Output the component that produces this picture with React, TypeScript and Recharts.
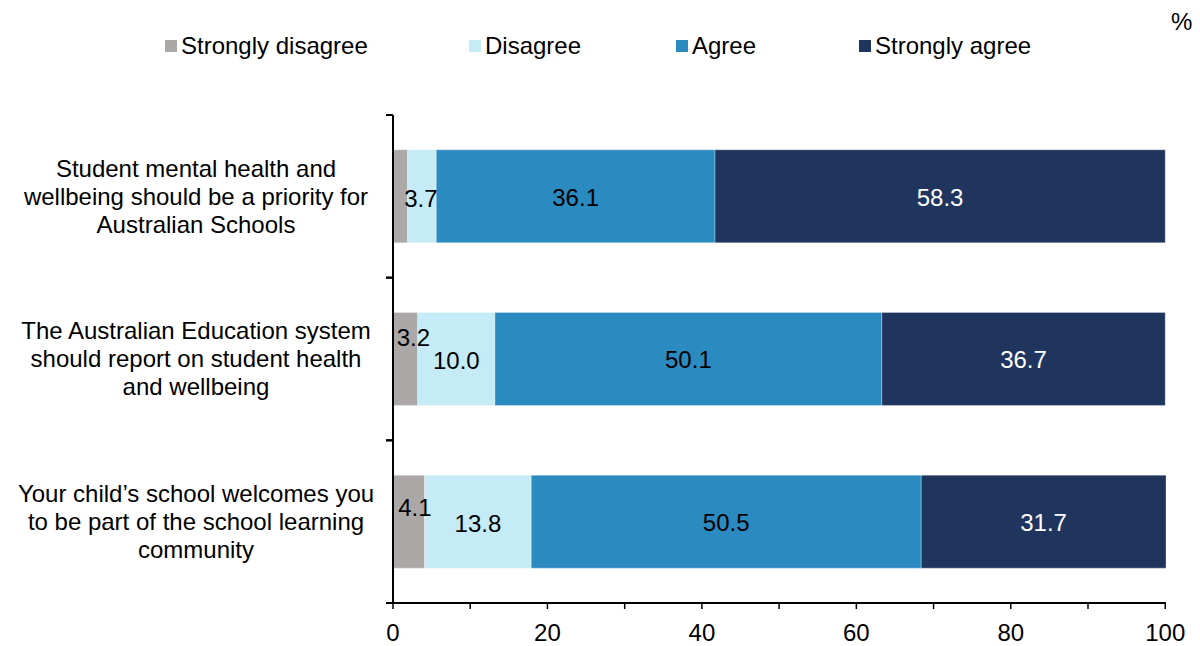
import React from "react";
import { Bar, BarChart, LabelList, XAxis, YAxis } from "recharts";

const categories = [
  "Student mental health and\nwellbeing should be a priority for\nAustralian Schools",
  "The Australian Education system\nshould report on student health\nand wellbeing",
  "Your child\u2019s school welcomes you\nto be part of the school learning\ncommunity",
];
const stronglyDisagree = [1.9, 3.2, 4.1];
const disagree = [3.7, 10.0, 13.8];
const agree = [36.1, 50.1, 50.5];
const stronglyAgree = [58.3, 36.7, 31.7];
const xTicks = [0, 10, 20, 30, 40, 50, 60, 70, 80, 90, 100];

const FONT = "'Liberation Sans', Arial, Helvetica, sans-serif";
const FONT_SIZE = 24;
const WIDTH = 1200;
const HEIGHT = 646;
const MARGIN = { top: 115, right: 34, bottom: 0, left: 0 };
const Y_AXIS_WIDTH = 393;
const X_AXIS_HEIGHT = 43;
const BAND = (HEIGHT - MARGIN.top - MARGIN.bottom - X_AXIS_HEIGHT) / categories.length;

const series = [
  { key: "sd", name: "Strongly disagree", color: "#ACA8A7", text: "#000", legendX: 165 },
  { key: "d", name: "Disagree", color: "#C5EBF7", text: "#000", legendX: 469 },
  { key: "a", name: "Agree", color: "#2B8ABF", text: "#000", legendX: 676 },
  { key: "sa", name: "Strongly agree", color: "#1F355E", text: "#fff", legendX: 859 },
];

const data = categories.map((category, i) => ({
  category,
  sd: stronglyDisagree[i],
  d: disagree[i],
  a: agree[i],
  sa: stronglyAgree[i],
}));

// small nudges so the narrow segments' labels don't collide
const labelShift: Record<string, { dx: number; dy: number }[]> = {
  sd: [{ dx: 0, dy: 0 }, { dx: 8, dy: -21 }, { dx: 6, dy: -14 }],
  d: [{ dx: -1, dy: 2 }, { dx: 0, dy: 2 }, { dx: 0, dy: 2 }],
  a: [{ dx: 0, dy: 1 }, { dx: 0, dy: 1 }, { dx: 0, dy: 1 }],
  sa: [{ dx: 0, dy: 1 }, { dx: 0, dy: 1 }, { dx: 0, dy: 1 }],
};

function makeLabel(key: string, fill: string) {
  return (props: any) => {
    const { x, y, width, height, value, index } = props;
    if (value == null || value < 2) return null;
    const shift = labelShift[key][index] ?? { dx: 0, dy: 0 };
    return (
      <text
        x={x + width / 2 + shift.dx}
        y={y + height / 2 + shift.dy}
        textAnchor="middle"
        dy="0.35em"
        fontSize={FONT_SIZE}
        fontFamily={FONT}
        fill={fill}
      >
        {Number(value).toFixed(1)}
      </text>
    );
  };
}

function CategoryTick(props: any) {
  const { y, payload } = props;
  const lines = String(payload.value).split("\n");
  const axisX = Y_AXIS_WIDTH;
  const cx = 196;
  return (
    <g>
      <line x1={axisX - 7} x2={axisX} y1={y - BAND / 2} y2={y - BAND / 2} stroke="#000" strokeWidth={2} />
      <line x1={axisX - 7} x2={axisX} y1={y + BAND / 2} y2={y + BAND / 2} stroke="#000" strokeWidth={2} />
      <text x={cx} y={y} textAnchor="middle" fontSize={FONT_SIZE} fontFamily={FONT} fill="#000">
        {lines.map((line, i) => (
          <tspan key={i} x={cx} y={y + (i - (lines.length - 1) / 2) * 28} dy="0.35em">
            {line}
          </tspan>
        ))}
      </text>
    </g>
  );
}

function TopLegend() {
  return (
    <>
      {series.map((s) => (
        <div
          key={s.key}
          style={{
            position: "absolute",
            left: s.legendX,
            top: 32,
            height: 28,
            display: "flex",
            alignItems: "center",
            fontFamily: FONT,
            fontSize: FONT_SIZE,
            color: "#000",
            whiteSpace: "nowrap",
          }}
        >
          <span style={{ width: 12, height: 12, background: s.color, marginRight: 4, display: "inline-block" }} />
          {s.name}
        </div>
      ))}
      <div style={{ position: "absolute", left: 1171, top: 8, fontFamily: FONT, fontSize: FONT_SIZE, lineHeight: "28px" }}>
        %
      </div>
    </>
  );
}

export default function App() {
  return (
    <div style={{ position: "absolute", left: 0, top: 0, width: WIDTH, height: HEIGHT, background: "#fff" }}>
      <TopLegend />
      <BarChart width={WIDTH} height={HEIGHT} data={data} layout="vertical" margin={MARGIN} barCategoryGap="21.4%">
        <XAxis
          type="number"
          domain={[0, 100]}
          ticks={xTicks}
          interval={0}
          height={X_AXIS_HEIGHT}
          tickSize={6}
          tickMargin={15}
          tickFormatter={(v: number) => (v % 20 === 0 ? String(v) : "")}
          axisLine={{ stroke: "#000", strokeWidth: 2 }}
          tickLine={{ stroke: "#000", strokeWidth: 1.5 }}
          tick={{ fill: "#000", fontSize: FONT_SIZE, fontFamily: FONT }}
        />
        <YAxis
          type="category"
          dataKey="category"
          width={Y_AXIS_WIDTH}
          tickLine={false}
          axisLine={{ stroke: "#000", strokeWidth: 2 }}
          tick={<CategoryTick />}
          interval={0}
        />
        {series.map((s) => (
          <Bar
            key={s.key}
            dataKey={s.key}
            name={s.name}
            stackId="total"
            fill={s.color}
            stroke="rgba(255,255,255,0.3)"
            strokeWidth={1}
            isAnimationActive={false}
          >
            <LabelList dataKey={s.key} content={makeLabel(s.key, s.text)} />
          </Bar>
        ))}
      </BarChart>
    </div>
  );
}
